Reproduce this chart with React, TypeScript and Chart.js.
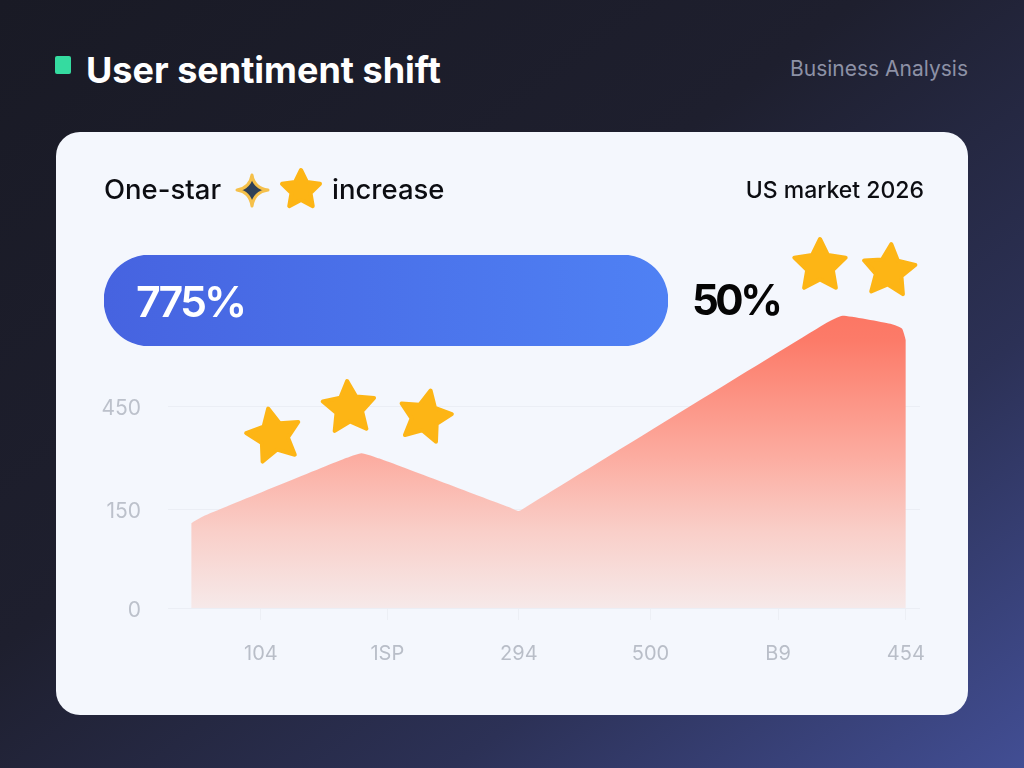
import React, { useEffect, useRef } from "react";
import { Chart, registerables } from "chart.js";

Chart.register(...registerables);

const title = "User sentiment shift";
const tag = "Business Analysis";
const subtitleStart = "One-star";
const subtitleEnd = "increase";
const market = "US market 2026";

const pillCategory = ["One-star increase"];
const pillValues = [775];
const pillLabel = "775%";
const sideLabel = "50%";

const xTickPositions = [0, 0.98, 2, 3.02, 4.01, 5];
const xTickLabels = ["104", "1SP", "294", "500", "B9", "454"];
const yTickPositions = [0, 147, 300];
const yTickLabels = ["0", "150", "450"];

const sentimentX = [-0.54, -0.45, 0.65, 0.78, 0.92, 1.92, 2, 2.08, 4.38, 4.51, 4.88, 4.97, 5];
const sentimentY = [126, 136, 222, 230, 222, 150, 144, 153, 423, 434, 422, 415, 398];

const FONT = "Inter, 'Noto Sans', sans-serif";

function Star({ cx, cy, r, rot = 0 }: { cx: number; cy: number; r: number; rot?: number }) {
  const pts: string[] = [];
  for (let i = 0; i < 10; i++) {
    const rad = i % 2 === 0 ? r - 2 : (r - 2) * 0.5;
    const a = ((i * 36 + rot) * Math.PI) / 180;
    pts.push(`${cx + rad * Math.sin(a)},${cy - rad * Math.cos(a)}`);
  }
  return <polygon points={pts.join(" ")} fill="#fdb515" stroke="#fdb515" strokeWidth={4} strokeLinejoin="round" />;
}

function Text({ x, right, y, size, weight, color, spacing, children }: any) {
  return (
    <div
      style={{
        position: "absolute",
        left: x,
        right: right,
        top: y,
        transform: "translateY(-50%)",
        fontFamily: FONT,
        fontSize: size,
        fontWeight: weight,
        letterSpacing: spacing,
        color,
        lineHeight: 1,
        whiteSpace: "nowrap",
      }}
    >
      {children}
    </div>
  );
}

export default function App() {
  const mainRef = useRef<HTMLCanvasElement>(null);
  const pillRef = useRef<HTMLCanvasElement>(null);

  useEffect(() => {
    document.body.style.margin = "0";

    const areaFill = (ctx: any) => {
      const { chart } = ctx;
      const { chartArea } = chart;
      if (!chartArea) return "#fc7a68";
      const g = chart.ctx.createLinearGradient(0, chartArea.top, 0, chartArea.bottom);
      g.addColorStop(0, "#fc7562");
      g.addColorStop(0.12, "#fc7b69");
      g.addColorStop(0.5, "#fcaca0");
      g.addColorStop(0.75, "#f9cfc9");
      g.addColorStop(1, "#f6e9e9");
      return g;
    };

    const main = new Chart(mainRef.current!, {
      type: "line",
      data: {
        datasets: [
          {
            label: "Sentiment",
            data: sentimentX.map((x, i) => ({ x, y: sentimentY[i] })),
            fill: "origin",
            backgroundColor: areaFill,
            borderWidth: 0,
            borderColor: "transparent",
            pointRadius: 0,
            tension: 0.15,
          },
        ],
      },
      options: {
        animation: false,
        responsive: false,
        devicePixelRatio: 1,
        layout: { padding: { top: 305, right: 104, left: 0, bottom: 0 } },
        plugins: { legend: { display: false }, tooltip: { enabled: false } },
        scales: {
          x: {
            type: "linear",
            min: -0.72,
            max: 5.11,
            border: { display: false },
            grid: { drawOnChartArea: false, drawTicks: true, tickLength: 12, tickColor: "#eceff5" },
            afterBuildTicks: (axis: any) => {
              axis.ticks = xTickPositions.map((value) => ({ value }));
            },
            afterFit: (axis: any) => {
              axis.height = 160;
            },
            ticks: {
              autoSkip: false,
              maxRotation: 0,
              padding: 22,
              color: "#b9bec8",
              font: { family: FONT, size: 20 },
              callback: (v: any) => xTickLabels[xTickPositions.indexOf(Number(v))] ?? "",
            },
          },
          y: {
            type: "linear",
            min: 0,
            max: 450,
            border: { display: false },
            grid: { color: "#ebeef5", lineWidth: 1, drawTicks: false },
            afterBuildTicks: (axis: any) => {
              axis.ticks = yTickPositions.map((value) => ({ value }));
            },
            afterFit: (axis: any) => {
              axis.width = 168;
            },
            ticks: {
              padding: 27,
              labelOffset: 3,
              color: "#bcc1cb",
              font: { family: FONT, size: 21 },
              callback: (v: any) => yTickLabels[yTickPositions.indexOf(Number(v))] ?? "",
            },
          },
        },
      },
    } as any);

    const pill = new Chart(pillRef.current!, {
      type: "bar",
      data: {
        labels: pillCategory,
        datasets: [
          {
            data: pillValues,
            barPercentage: 1,
            categoryPercentage: 1,
            borderRadius: 46,
            borderSkipped: false,
            backgroundColor: (ctx: any) => {
              const { chart } = ctx;
              const g = chart.ctx.createLinearGradient(0, 0, chart.width, 0);
              g.addColorStop(0, "#4663e0");
              g.addColorStop(1, "#4f81f4");
              return g;
            },
          },
        ],
      },
      options: {
        indexAxis: "y",
        animation: false,
        responsive: false,
        devicePixelRatio: 1,
        plugins: { legend: { display: false }, tooltip: { enabled: false } },
        scales: {
          x: { display: false, min: 0, max: pillValues[0] },
          y: { display: false },
        },
      },
    } as any);

    return () => {
      main.destroy();
      pill.destroy();
    };
  }, []);

  return (
    <div
      style={{
        position: "fixed",
        left: 0,
        top: 0,
        width: 1024,
        height: 768,
        overflow: "hidden",
        background: "linear-gradient(143deg, #191a25 0%, #1e1f2e 42%, #2c3156 72%, #424e94 100%)",
      }}
    >
      <div style={{ position: "absolute", left: 55, top: 56, width: 16, height: 18, borderRadius: 2, background: "#35dba0" }} />
      <Text x={86} y={70} size={36} weight={700} color="#ffffff">{title}</Text>
      <Text right={56} y={68} size={21} weight={400} color="#8d91a6">{tag}</Text>

      <div
        style={{
          position: "absolute",
          left: 56,
          top: 132,
          width: 912,
          height: 583,
          borderRadius: 24,
          background: "#f4f7fd",
        }}
      />
      <canvas ref={mainRef} width={1024} height={768} style={{ position: "absolute", left: 0, top: 0, width: 1024, height: 768 }} />
      <canvas ref={pillRef} width={564} height={91} style={{ position: "absolute", left: 104, top: 255, width: 564, height: 91 }} />

      <Text x={104} y={190} size={27.5} weight={500} color="#0c0d12">{subtitleStart}</Text>
      <Text x={332} y={190} size={27.5} weight={500} color="#0c0d12">{subtitleEnd}</Text>
      <Text right={100} y={190} size={23} weight={500} color="#0c0d12">{market}</Text>
      <Text x={136} y={301} size={43} weight={600} spacing={-3} color="#ffffff">{pillLabel}</Text>
      <Text x={692} y={300} size={42} weight={700} spacing={-3.5} color="#050505">{sideLabel}</Text>

      <svg width={1024} height={768} style={{ position: "absolute", left: 0, top: 0, pointerEvents: "none" }}>
        <path
          d="M252 175 Q254 188 268 190 Q254 192 252 206 Q250 192 237 190 Q250 188 252 175Z"
          fill="#2f4057"
          stroke="#f5c04a"
          strokeWidth={3}
          strokeLinejoin="round"
        />
        <Star cx={301} cy={190} r={22} rot={0} />
        <Star cx={274} cy={436} r={30} rot={-12} />
        <Star cx={349} cy={408} r={29} rot={-4} />
        <Star cx={425} cy={417} r={29} rot={12} />
        <Star cx={820} cy={266} r={29} rot={0} />
        <Star cx={889} cy={271} r={29} rot={5} />
      </svg>
    </div>
  );
}
